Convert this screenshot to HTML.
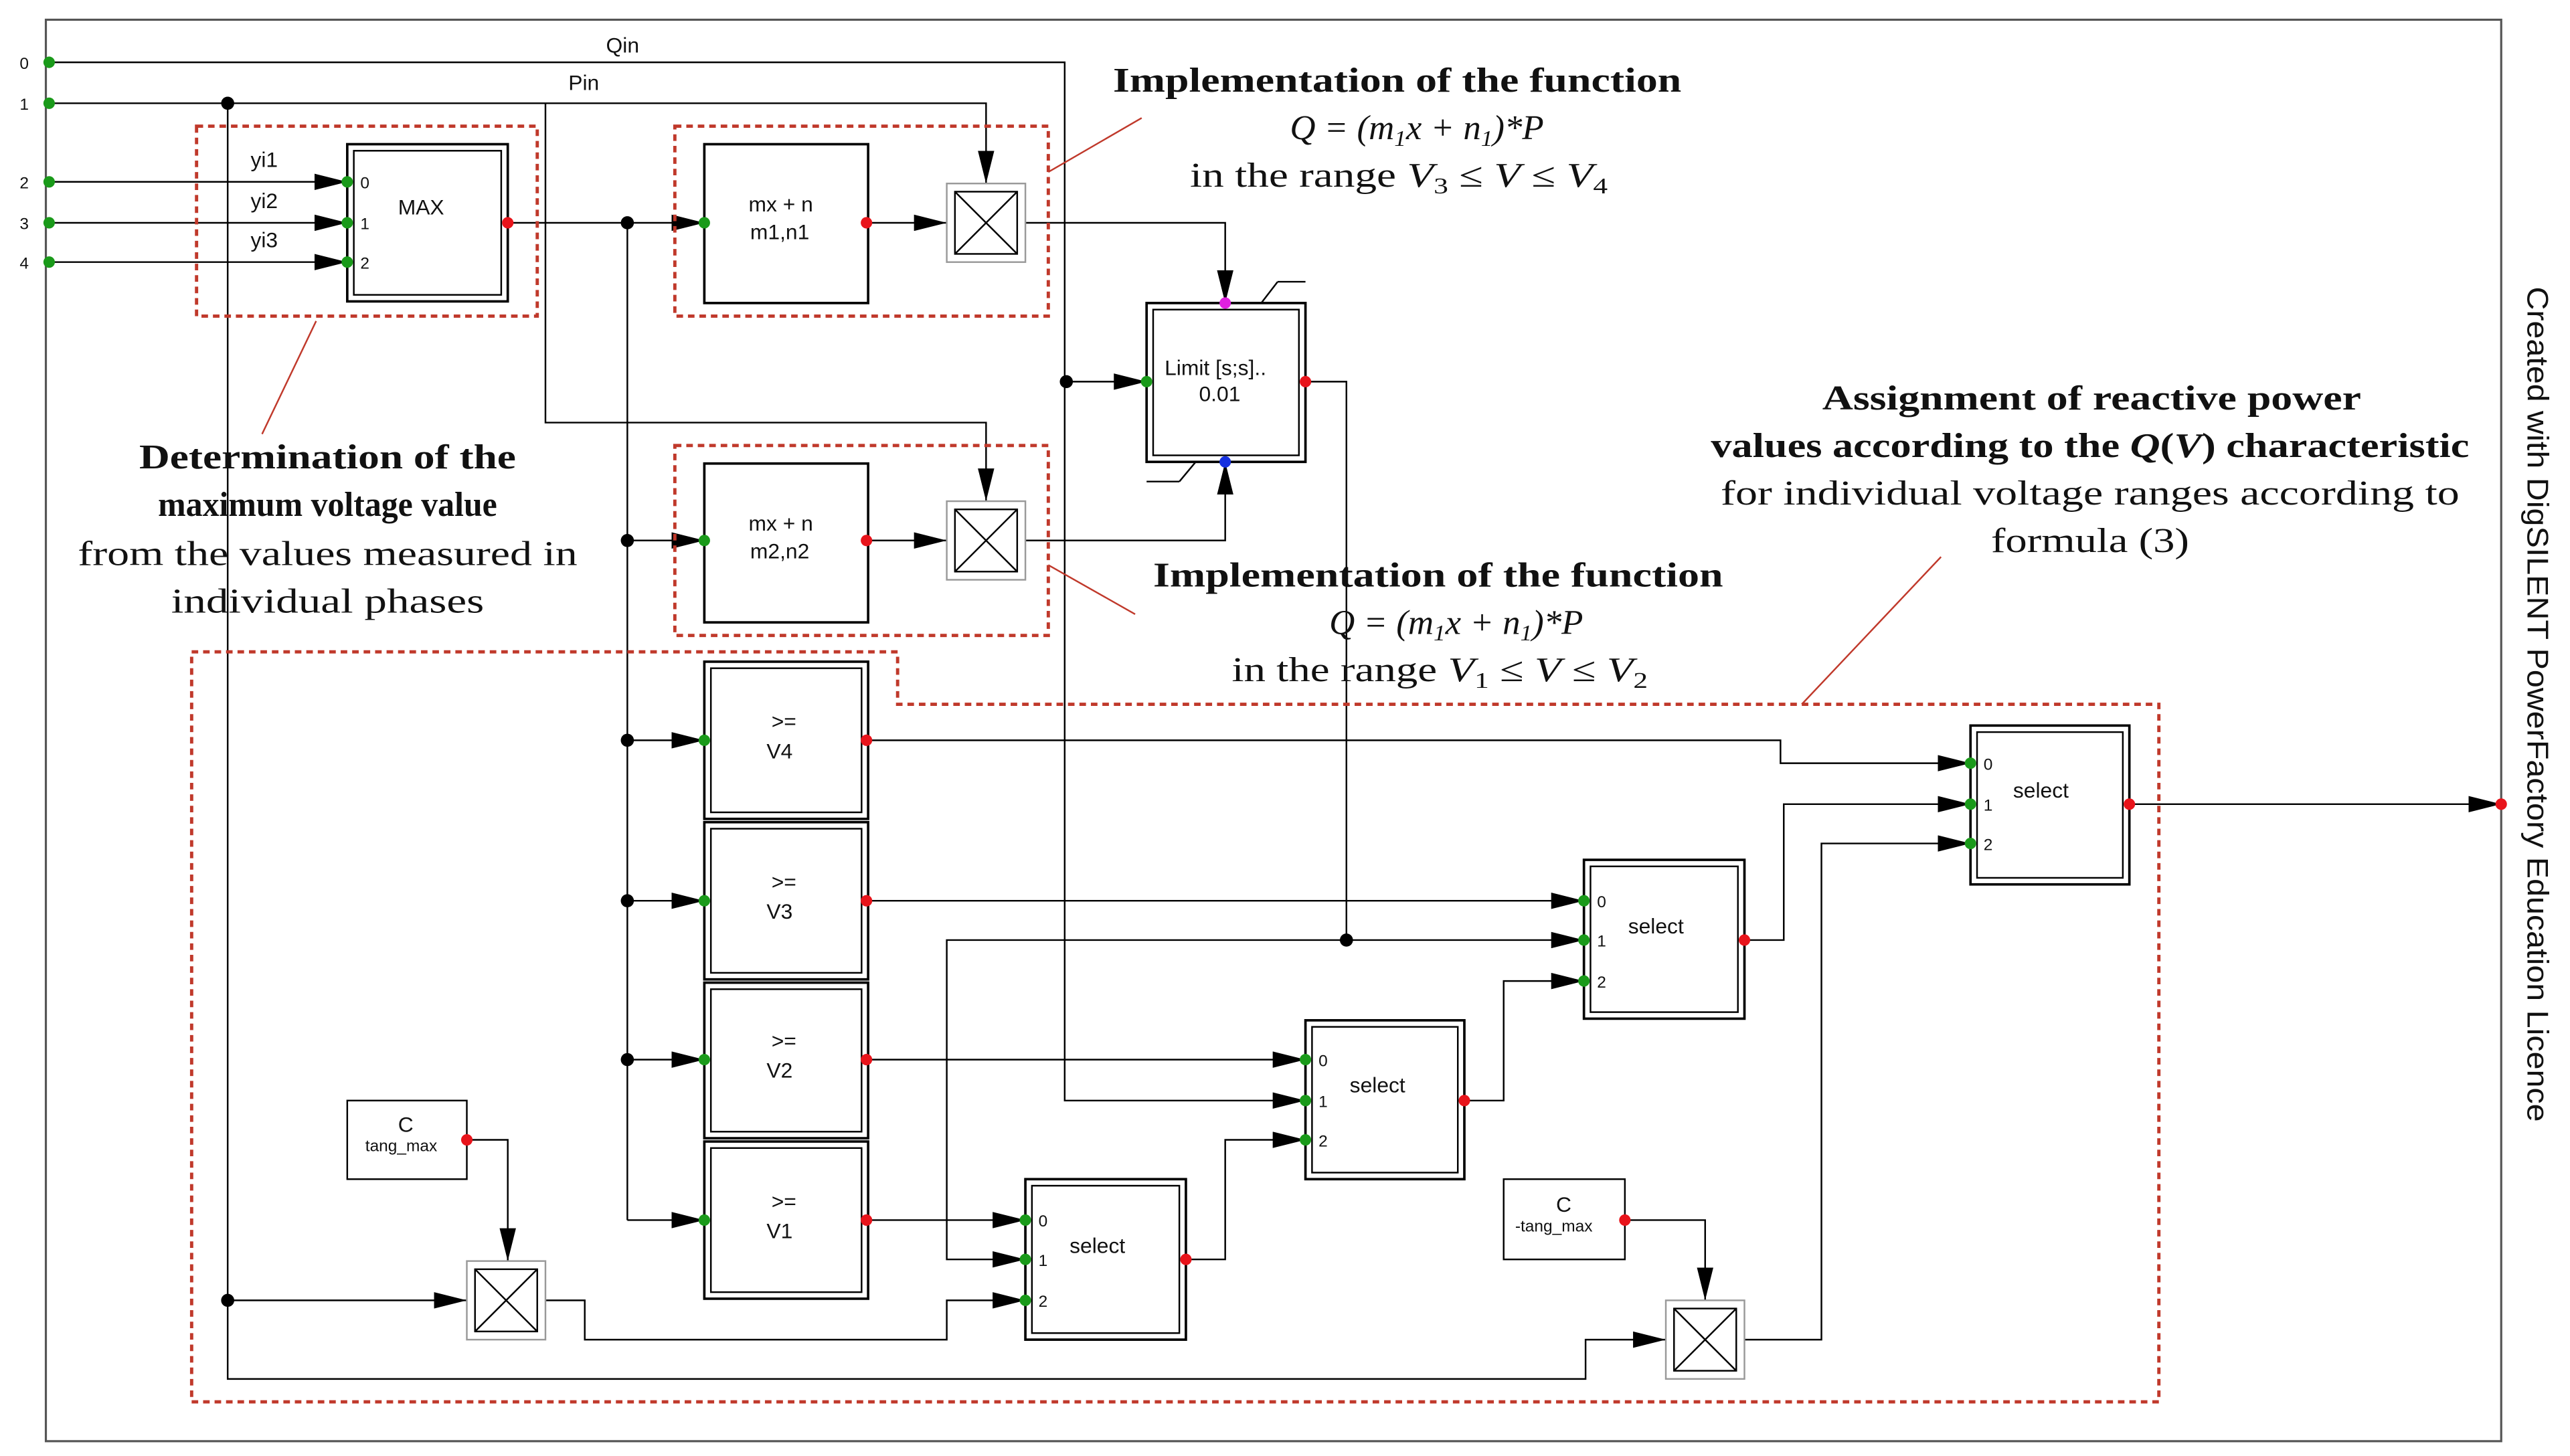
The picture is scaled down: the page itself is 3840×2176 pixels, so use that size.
<!DOCTYPE html>
<html><head><meta charset="utf-8"><style>
html,body{margin:0;padding:0;background:#fff}
svg{display:block}
.t{font-family:"Liberation Sans",sans-serif;font-size:13px;fill:#111}
.s{font-family:"Liberation Sans",sans-serif;font-size:10px;fill:#111}
.a{font-family:"Liberation Serif",serif;font-size:21px;fill:#111}
.b{font-weight:bold}
</style></head><body>
<svg width="3840" height="2176" viewBox="0 0 1569 889" xmlns="http://www.w3.org/2000/svg">
<defs>
<marker id="ar2" markerWidth="22" markerHeight="10" refX="20" refY="5" orient="auto" markerUnits="userSpaceOnUse"><path d="M0,0 L20,5 L0,10 Z" fill="#000"/></marker>
</defs>
<rect x="28" y="12" width="1499" height="868" fill="none" stroke="#555" stroke-width="1.3"/>
<g fill="none" stroke="#000" stroke-width="1">
<polyline points="30,38 650,38 650,672 797,672" marker-end="url(#ar2)"/>
<polyline points="30,63 602,63 602,112" marker-end="url(#ar2)"/>
<polyline points="333,63 333,258 602,258 602,306" marker-end="url(#ar2)"/>
<polyline points="139,63 139,794 285,794" marker-end="url(#ar2)"/>
<polyline points="139,794 139,842 968,842 968,818 1017,818" marker-end="url(#ar2)"/>
<line x1="30" y1="111" x2="212" y2="111" marker-end="url(#ar2)"/>
<line x1="30" y1="136" x2="212" y2="136" marker-end="url(#ar2)"/>
<line x1="30" y1="160" x2="212" y2="160" marker-end="url(#ar2)"/>
<polyline points="310,136 430,136" marker-end="url(#ar2)"/>
<line x1="383" y1="136" x2="383" y2="745"/>
<line x1="383" y1="330" x2="430" y2="330" marker-end="url(#ar2)"/>
<line x1="383" y1="452" x2="430" y2="452" marker-end="url(#ar2)"/>
<line x1="383" y1="550" x2="430" y2="550" marker-end="url(#ar2)"/>
<line x1="383" y1="647" x2="430" y2="647" marker-end="url(#ar2)"/>
<line x1="383" y1="745" x2="430" y2="745" marker-end="url(#ar2)"/>
<line x1="529" y1="136" x2="578" y2="136" marker-end="url(#ar2)"/>
<line x1="529" y1="330" x2="578" y2="330" marker-end="url(#ar2)"/>
<polyline points="626,136 748,136 748,185" marker-end="url(#ar2)"/>
<polyline points="626,330 748,330 748,282" marker-end="url(#ar2)"/>
<line x1="651" y1="233" x2="700" y2="233" marker-end="url(#ar2)"/>
<polyline points="797,233 822,233 822,574 967,574" marker-end="url(#ar2)"/>
<polyline points="822,574 578,574 578,769 626,769" marker-end="url(#ar2)"/>
<polyline points="529,452 1087,452 1087,466 1203,466" marker-end="url(#ar2)"/>
<line x1="529" y1="550" x2="967" y2="550" marker-end="url(#ar2)"/>
<line x1="529" y1="647" x2="797" y2="647" marker-end="url(#ar2)"/>
<line x1="529" y1="745" x2="626" y2="745" marker-end="url(#ar2)"/>
<polyline points="724,769 748,769 748,696 797,696" marker-end="url(#ar2)"/>
<polyline points="894,672 918,672 918,599 967,599" marker-end="url(#ar2)"/>
<polyline points="1065,574 1089,574 1089,491 1203,491" marker-end="url(#ar2)"/>
<line x1="1300" y1="491" x2="1527" y2="491" marker-end="url(#ar2)"/>
<polyline points="285,696 310,696 310,770" marker-end="url(#ar2)"/>
<polyline points="333,794 357,794 357,818 578,818 578,794 626,794" marker-end="url(#ar2)"/>
<polyline points="992,745 1041,745 1041,794" marker-end="url(#ar2)"/>
<polyline points="1065,818 1112,818 1112,515 1203,515" marker-end="url(#ar2)"/>
<line x1="770" y1="185" x2="780" y2="172"/><line x1="780" y1="172" x2="797" y2="172"/>
<line x1="730" y1="282" x2="720" y2="294"/><line x1="720" y1="294" x2="700" y2="294"/>
</g>
<g fill="#fff" stroke="#000">
<rect x="212" y="88" width="98" height="96" stroke-width="1.5"/><rect x="216" y="92" width="90" height="88" stroke-width="1"/>
<rect x="430" y="88" width="100" height="97" stroke-width="1.5"/>
<rect x="430" y="283" width="100" height="97" stroke-width="1.5"/>
<rect x="700" y="185" width="97" height="97" stroke-width="1.5"/><rect x="704" y="189" width="89" height="89"/>
<rect x="430" y="404" width="100" height="96" stroke-width="1.5"/><rect x="434" y="408" width="92" height="88"/>
<rect x="430" y="502" width="100" height="96" stroke-width="1.5"/><rect x="434" y="506" width="92" height="88"/>
<rect x="430" y="600" width="100" height="95" stroke-width="1.5"/><rect x="434" y="604" width="92" height="87"/>
<rect x="430" y="697" width="100" height="96" stroke-width="1.5"/><rect x="434" y="701" width="92" height="88"/>
<rect x="626" y="720" width="98" height="98" stroke-width="1.5"/><rect x="630" y="724" width="90" height="90"/>
<rect x="797" y="623" width="97" height="97" stroke-width="1.5"/><rect x="801" y="627" width="89" height="89"/>
<rect x="967" y="525" width="98" height="97" stroke-width="1.5"/><rect x="971" y="529" width="90" height="89"/>
<rect x="1203" y="443" width="97" height="97" stroke-width="1.5"/><rect x="1207" y="447" width="89" height="89"/>
<rect x="212" y="672" width="73" height="48"/>
<rect x="918" y="720" width="74" height="49"/>
</g>
<g stroke="#000" fill="#fff">
<g transform="translate(578,112)"><rect width="48" height="48" stroke="#999"/><rect x="5" y="5" width="38" height="38"/><path d="M5,5 L43,43 M43,5 L5,43"/></g>
<g transform="translate(578,306)"><rect width="48" height="48" stroke="#999"/><rect x="5" y="5" width="38" height="38"/><path d="M5,5 L43,43 M43,5 L5,43"/></g>
<g transform="translate(285,770)"><rect width="48" height="48" stroke="#999"/><rect x="5" y="5" width="38" height="38"/><path d="M5,5 L43,43 M43,5 L5,43"/></g>
<g transform="translate(1017,794)"><rect width="48" height="48" stroke="#999"/><rect x="5" y="5" width="38" height="38"/><path d="M5,5 L43,43 M43,5 L5,43"/></g>
</g>
<g fill="none" stroke="#c0392b" stroke-width="2" stroke-dasharray="4,3">
<rect x="120" y="77" width="208" height="116"/>
<rect x="412" y="77" width="228" height="116"/>
<rect x="412" y="272" width="228" height="116"/>
<polygon points="117,398 548,398 548,430 1318,430 1318,856 117,856"/>
</g>
<g stroke="#c0392b" stroke-width="1">
<line x1="193" y1="196" x2="160" y2="265"/>
<line x1="640" y1="105" x2="697" y2="72"/>
<line x1="640" y1="345" x2="693" y2="375"/>
<line x1="1100" y1="430" x2="1185" y2="340"/>
</g>
<g fill="#1a9a1a">
<circle cx="30" cy="38" r="3.5"/><circle cx="30" cy="63" r="3.5"/><circle cx="30" cy="111" r="3.5"/><circle cx="30" cy="136" r="3.5"/><circle cx="30" cy="160" r="3.5"/>
<circle cx="212" cy="111" r="3.5"/><circle cx="212" cy="136" r="3.5"/><circle cx="212" cy="160" r="3.5"/>
<circle cx="430" cy="136" r="3.5"/><circle cx="430" cy="330" r="3.5"/>
<circle cx="430" cy="452" r="3.5"/><circle cx="430" cy="550" r="3.5"/><circle cx="430" cy="647" r="3.5"/><circle cx="430" cy="745" r="3.5"/>
<circle cx="700" cy="233" r="3.5"/>
<circle cx="626" cy="745" r="3.5"/><circle cx="626" cy="769" r="3.5"/><circle cx="626" cy="794" r="3.5"/>
<circle cx="797" cy="647" r="3.5"/><circle cx="797" cy="672" r="3.5"/><circle cx="797" cy="696" r="3.5"/>
<circle cx="967" cy="550" r="3.5"/><circle cx="967" cy="574" r="3.5"/><circle cx="967" cy="599" r="3.5"/>
<circle cx="1203" cy="466" r="3.5"/><circle cx="1203" cy="491" r="3.5"/><circle cx="1203" cy="515" r="3.5"/>
</g>
<g fill="#e8141b">
<circle cx="310" cy="136" r="3.5"/><circle cx="529" cy="136" r="3.5"/><circle cx="529" cy="330" r="3.5"/><circle cx="797" cy="233" r="3.5"/>
<circle cx="529" cy="452" r="3.5"/><circle cx="529" cy="550" r="3.5"/><circle cx="529" cy="647" r="3.5"/><circle cx="529" cy="745" r="3.5"/>
<circle cx="724" cy="769" r="3.5"/><circle cx="894" cy="672" r="3.5"/><circle cx="1065" cy="574" r="3.5"/><circle cx="1300" cy="491" r="3.5"/>
<circle cx="285" cy="696" r="3.5"/><circle cx="992" cy="745" r="3.5"/><circle cx="1527" cy="491" r="3.5"/>
</g>
<circle cx="748" cy="185" r="3.5" fill="#e020e0"/><circle cx="748" cy="282" r="3.5" fill="#1530e0"/>
<g fill="#000">
<circle cx="139" cy="63" r="4"/><circle cx="383" cy="136" r="4"/><circle cx="383" cy="330" r="4"/><circle cx="383" cy="452" r="4"/><circle cx="383" cy="550" r="4"/><circle cx="383" cy="647" r="4"/>
<circle cx="651" cy="233" r="4"/><circle cx="822" cy="574" r="4"/><circle cx="139" cy="794" r="4"/>
</g>
<g class="s">
<text x="12" y="42">0</text><text x="12" y="67">1</text><text x="12" y="115">2</text><text x="12" y="140">3</text><text x="12" y="164">4</text>
<text x="220" y="115">0</text><text x="220" y="140">1</text><text x="220" y="164">2</text>
<text x="634" y="749">0</text><text x="634" y="773">1</text><text x="634" y="798">2</text>
<text x="805" y="651">0</text><text x="805" y="676">1</text><text x="805" y="700">2</text>
<text x="975" y="554">0</text><text x="975" y="578">1</text><text x="975" y="603">2</text>
<text x="1211" y="470">0</text><text x="1211" y="495">1</text><text x="1211" y="519">2</text>
<text x="223" y="703">tang_max</text><text x="925" y="752">-tang_max</text>
</g>
<g class="t">
<text x="370" y="32">Qin</text><text x="347" y="55">Pin</text>
<text x="153" y="102">yi1</text><text x="153" y="127">yi2</text><text x="153" y="151">yi3</text>
<text x="243" y="131">MAX</text>
<text x="457" y="129">mx + n</text><text x="458" y="146">m1,n1</text>
<text x="457" y="324">mx + n</text><text x="458" y="341">m2,n2</text>
<text x="711" y="229">Limit [s;s]..</text><text x="732" y="245">0.01</text>
<text x="471" y="445">&gt;=</text><text x="468" y="463">V4</text>
<text x="471" y="543">&gt;=</text><text x="468" y="561">V3</text>
<text x="471" y="640">&gt;=</text><text x="468" y="658">V2</text>
<text x="471" y="738">&gt;=</text><text x="468" y="756">V1</text>
<text x="653" y="765">select</text><text x="824" y="667">select</text><text x="994" y="570">select</text><text x="1229" y="487">select</text>
<text x="243" y="691">C</text><text x="950" y="740">C</text>
</g>
<g class="a" text-anchor="middle">
<text x="200" y="286" class="b" textLength="230" lengthAdjust="spacingAndGlyphs">Determination of the</text>
<text x="200" y="315" class="b" textLength="207" lengthAdjust="spacingAndGlyphs">maximum voltage value</text>
<text x="200" y="345" textLength="305" lengthAdjust="spacingAndGlyphs">from the values measured in</text>
<text x="200" y="374" textLength="191" lengthAdjust="spacingAndGlyphs">individual phases</text>
<text x="853" y="56" class="b" textLength="347" lengthAdjust="spacingAndGlyphs">Implementation of the function</text>
<text x="865" y="85" font-style="italic" textLength="155" lengthAdjust="spacingAndGlyphs">Q = (m<tspan font-size="14" dy="4">1</tspan><tspan dy="-4">x + n</tspan><tspan font-size="14" dy="4">1</tspan><tspan dy="-4">)*P</tspan></text>
<text x="854" y="114" textLength="255" lengthAdjust="spacingAndGlyphs">in the range <tspan font-style="italic">V</tspan><tspan font-size="14" dy="4">3</tspan><tspan dy="-4"> ≤ </tspan><tspan font-style="italic">V</tspan> ≤ <tspan font-style="italic">V</tspan><tspan font-size="14" dy="4">4</tspan></text>
<text x="878" y="358" class="b" textLength="348" lengthAdjust="spacingAndGlyphs">Implementation of the function</text>
<text x="889" y="387" font-style="italic" textLength="155" lengthAdjust="spacingAndGlyphs">Q = (m<tspan font-size="14" dy="4">1</tspan><tspan dy="-4">x + n</tspan><tspan font-size="14" dy="4">1</tspan><tspan dy="-4">)*P</tspan></text>
<text x="879" y="416" textLength="254" lengthAdjust="spacingAndGlyphs">in the range <tspan font-style="italic">V</tspan><tspan font-size="14" dy="4">1</tspan><tspan dy="-4"> ≤ </tspan><tspan font-style="italic">V</tspan> ≤ <tspan font-style="italic">V</tspan><tspan font-size="14" dy="4">2</tspan></text>
<text x="1277" y="250" class="b" textLength="329" lengthAdjust="spacingAndGlyphs">Assignment of reactive power</text>
<text x="1276" y="279" class="b" textLength="463" lengthAdjust="spacingAndGlyphs">values according to the <tspan font-style="italic">Q</tspan>(<tspan font-style="italic">V</tspan>) characteristic</text>
<text x="1276" y="308" textLength="451" lengthAdjust="spacingAndGlyphs">for individual voltage ranges according to</text>
<text x="1276" y="337" textLength="121" lengthAdjust="spacingAndGlyphs">formula (3)</text>
</g>
<text transform="translate(1543,175) rotate(90)" font-family="Liberation Sans,sans-serif" font-size="18" fill="#111" textLength="510" lengthAdjust="spacingAndGlyphs">Created with DigSILENT PowerFactory Education Licence</text>
</svg>
</body></html>
